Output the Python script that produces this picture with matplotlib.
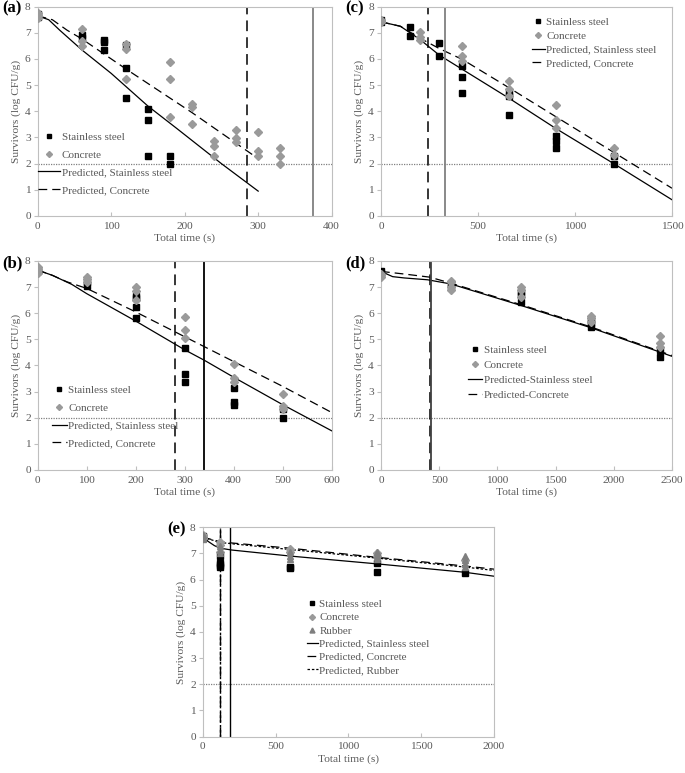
import numpy as np
import matplotlib
matplotlib.use("Agg")
import matplotlib.pyplot as plt

plt.rcParams['font.family'] = ['Liberation Serif', 'DejaVu Serif']
plt.rcParams['font.size'] = 8.2

# ---- panel (a) ----
a_ss_t = [0, 0, 60, 60, 90, 90, 90, 120, 120, 120, 150, 150, 150, 180, 180]
a_ss_y = [7.6, 7.7, 6.92, 6.82, 6.74, 6.65, 6.34, 6.55, 5.67, 4.52, 4.09, 3.68, 2.31, 2.31, 2.0]
a_co_t = [0, 0, 0, 60, 60, 60, 120, 120, 120, 180, 180, 180, 210, 210, 210,
          240, 240, 240, 270, 270, 270, 300, 300, 300, 330, 330, 330]
a_co_y = [7.55, 7.65, 7.75, 7.15, 6.7, 6.48, 6.57, 6.37, 5.25, 5.89, 5.25, 3.77, 4.29, 4.15, 3.52,
          2.85, 2.69, 2.31, 3.29, 2.99, 2.84, 3.2, 2.48, 2.29, 2.6, 2.29, 2.0]
a_pss_t = [0, 15, 30, 60, 100, 150, 189, 250, 300]
a_pss_y = [7.65, 7.5, 7.1, 6.35, 5.45, 4.2, 3.35, 2.0, 0.95]
a_pco_t = [0, 20, 40, 60, 120, 210, 297]
a_pco_y = [7.65, 7.5, 7.1, 6.77, 5.62, 3.95, 2.25]
a_vlines = [285, 374]

# ---- panel (b) ----
b_ss_t = [0, 0, 100, 100, 200, 200, 200, 200, 300, 300, 300, 400, 400, 400, 500, 500]
b_ss_y = [7.6, 7.65, 7.05, 7.2, 6.67, 6.6, 6.25, 5.8, 4.68, 3.67, 3.38, 3.15, 2.6, 2.5, 2.32, 2.0]
b_co_t = [0, 0, 0, 100, 100, 100, 200, 200, 200, 300, 300, 300, 400, 400, 400, 500, 500, 500]
b_co_y = [7.55, 7.65, 7.75, 7.4, 7.3, 7.2, 6.99, 6.86, 6.5, 5.87, 5.36, 5.04, 4.06, 3.51, 3.38, 2.9, 2.46, 2.32]
b_pss_t = [0, 30, 70, 100, 200, 300, 340, 400, 500, 600]
b_pss_y = [7.65, 7.45, 7.1, 6.75, 5.7, 4.6, 4.2, 3.55, 2.5, 1.5]
b_pco_t = [0, 30, 60, 100, 200, 300, 400, 500, 600]
b_pco_y = [7.65, 7.45, 7.2, 6.95, 6.05, 5.1, 4.15, 3.2, 2.2]
b_vlines = [280, 340]

# ---- panel (c) ----
c_ss_t = [0, 0, 150, 150, 300, 300, 420, 420, 420, 660, 660, 660, 900, 900, 900, 1200, 1200]
c_ss_y = [7.4, 7.5, 7.21, 6.88, 6.62, 6.13, 5.75, 5.31, 4.71, 4.75, 4.6, 3.85, 3.06, 2.87, 2.61, 2.3, 2.0]
c_co_t = [0, 0, 0, 200, 200, 200, 420, 420, 420, 660, 660, 660, 900, 900, 900, 1200, 1200]
c_co_y = [7.4, 7.45, 7.5, 7.03, 6.83, 6.72, 6.5, 6.13, 5.93, 5.15, 4.86, 4.57, 4.25, 3.67, 3.35, 2.61, 2.32]
c_pss_t = [0, 100, 200, 300, 420, 660, 900, 1200, 1500]
c_pss_y = [7.42, 7.25, 6.75, 6.15, 5.6, 4.5, 3.35, 2.0, 0.62]
c_pco_t = [0, 100, 200, 300, 420, 660, 900, 1200, 1500]
c_pco_y = [7.42, 7.25, 6.8, 6.4, 5.98, 4.9, 3.8, 2.43, 1.06]
c_vlines = [244, 331]

# ---- panel (d) ----
d_ss_t = [0, 0, 600, 600, 1200, 1200, 1200, 1800, 1800, 1800, 2400, 2400]
d_ss_y = [7.6, 7.55, 7.1, 7.0, 6.82, 6.7, 6.42, 5.75, 5.61, 5.46, 4.59, 4.34]
d_co_t = [0, 0, 0, 600, 600, 600, 600, 1200, 1200, 1200, 1800, 1800, 1800, 2400, 2400, 2400]
d_co_y = [7.5, 7.45, 7.38, 7.25, 7.2, 7.0, 6.9, 6.99, 6.89, 6.63, 5.89, 5.8, 5.68, 5.13, 4.85, 4.72]
d_pss_t = [0, 50, 100, 200, 400, 600, 1200, 1800, 2500]
d_pss_y = [7.6, 7.5, 7.4, 7.35, 7.28, 7.12, 6.3, 5.45, 4.35]
d_pco_t = [0, 200, 420, 600, 1200, 1800, 2500]
d_pco_y = [7.6, 7.5, 7.38, 7.15, 6.33, 5.48, 4.38]
d_vlines = [425, 432]

# ---- panel (e) ----
e_ss_t = [0, 0, 120, 120, 120, 120, 600, 600, 1200, 1200, 1800]
e_ss_y = [7.6, 7.65, 6.9, 6.65, 6.55, 6.5, 6.5, 6.43, 6.62, 6.31, 6.24]
e_co_t = [0, 0, 120, 120, 120, 600, 600, 1200, 1200, 1800]
e_co_y = [7.7, 7.6, 7.45, 7.32, 7.07, 7.16, 7.04, 7.03, 6.9, 6.75]
e_ru_t = [0, 0, 0, 120, 120, 120, 600, 600, 600, 1200, 1200, 1200, 1200, 1800, 1800, 1800, 1800]
e_ru_y = [7.7, 7.6, 7.55, 7.3, 7.15, 7.0, 7.05, 6.9, 6.78, 7.05, 6.95, 6.85, 6.8, 6.9, 6.75, 6.6, 6.5]
e_pss_t = [0, 40, 80, 120, 200, 600, 1200, 1800, 2000]
e_pss_y = [7.62, 7.45, 7.3, 7.2, 7.13, 6.9, 6.6, 6.28, 6.13]
e_pco_t = [0, 120, 200, 600, 1200, 1800, 2000]
e_pco_y = [7.62, 7.45, 7.4, 7.2, 6.85, 6.52, 6.4]
e_pru_t = [0, 120, 200, 600, 1200, 1800, 2000]
e_pru_y = [7.62, 7.42, 7.37, 7.15, 6.82, 6.48, 6.35]

GREY = '#9a9a9a'
TXT = '#595959'
DASH = (0, (7, 4))

fig = plt.figure(figsize=(6.85, 7.73), dpi=100)


def setup(ax, xmax, xstep, label):
    ax.set_xlim(0, xmax)
    ax.set_ylim(0, 8)
    ax.set_xticks(np.arange(0, xmax + 1, xstep))
    ax.set_yticks(range(0, 9))
    for s in ax.spines.values():
        s.set_color('#bfbfbf')
        s.set_linewidth(0.8)
    ax.tick_params(axis='y', direction='out', length=3, color='#bfbfbf', labelcolor=TXT, pad=2)
    ax.tick_params(axis='x', direction='in', length=3, color='#bfbfbf', labelcolor=TXT, pad=4)
    ax.set_xlabel('Total time (s)', color=TXT, labelpad=2)
    ax.set_ylabel('Survivors (log CFU/g)', color=TXT, labelpad=3)
    ax.axhline(2, color='#808080', lw=0.9, ls=(0, (1, 1)), zorder=1)
    ax.text(-0.122, 0.99, label, transform=ax.transAxes, fontsize=12,
            fontweight='bold', va='center', ha='left')


def add_legend(ax, anchor, spacing, hlen):
    ax.legend(loc='upper left', bbox_to_anchor=anchor, frameon=False, handlelength=hlen,
              handletextpad=0.15, labelspacing=spacing, borderpad=0, borderaxespad=0,
              labelcolor=TXT, fontsize=8, markerscale=0.85)


def two_series(ax, ss_t, ss_y, co_t, co_y, pss, pco, vl, vcol, names):
    ax.plot(ss_t, ss_y, 's', color='black', ms=4.2, ls='none', label=names[0], zorder=3)
    ax.plot(co_t, co_y, 'D', color=GREY, ms=3.6, ls='none', label=names[1], zorder=4)
    ax.plot(pss[0], pss[1], color='black', lw=0.9, label=names[2], zorder=2)
    ax.plot(pco[0], pco[1], color='black', lw=0.9, ls=DASH, label=names[3], zorder=2)
    ax.axvline(vl[0], color='black', lw=1.1, ls=DASH, zorder=2)
    ax.axvline(vl[1], color=vcol, lw=1.3, zorder=2)


pred = ['Stainless steel', 'Concrete', 'Predicted, Stainless steel', 'Predicted, Concrete']

ax_a = fig.add_axes([0.0550, 0.7206, 0.4292, 0.2708])
setup(ax_a, 400, 100, '(a)')
two_series(ax_a, a_ss_t, a_ss_y, a_co_t, a_co_y, (a_pss_t, a_pss_y), (a_pco_t, a_pco_y),
           a_vlines, '#808080', pred)
add_legend(ax_a, (0.0, 0.399), 0.7, 2.0)

ax_b = fig.add_axes([0.0550, 0.3920, 0.4292, 0.2704])
setup(ax_b, 600, 100, '(b)')
two_series(ax_b, b_ss_t, b_ss_y, b_co_t, b_co_y, (b_pss_t, b_pss_y), (b_pco_t, b_pco_y),
           b_vlines, 'black', pred)
add_legend(ax_b, (0.048, 0.404), 0.7, 1.35)

ax_c = fig.add_axes([0.5562, 0.7206, 0.4248, 0.2708])
setup(ax_c, 1500, 500, '(c)')
two_series(ax_c, c_ss_t, c_ss_y, c_co_t, c_co_y, (c_pss_t, c_pss_y), (c_pco_t, c_pco_y),
           c_vlines, '#808080', pred)
add_legend(ax_c, (0.52, 0.948), 0.35, 1.1)

ax_d = fig.add_axes([0.5562, 0.3920, 0.4248, 0.2704])
setup(ax_d, 2500, 500, '(d)')
two_series(ax_d, d_ss_t, d_ss_y, d_co_t, d_co_y, (d_pss_t, d_pss_y), (d_pco_t, d_pco_y),
           d_vlines, '#404040',
           ['Stainless steel', 'Concrete', 'Predicted-Stainless steel', 'Predicted-Concrete'])
add_legend(ax_d, (0.30, 0.596), 0.45, 1.25)

ax_e = fig.add_axes([0.2959, 0.0470, 0.4253, 0.2709])
setup(ax_e, 2000, 500, '(e)')
ax_e.plot(e_ss_t, e_ss_y, 's', color='black', ms=4.2, ls='none', label='Stainless steel', zorder=3)
ax_e.plot(e_co_t, e_co_y, 'D', color=GREY, ms=3.6, ls='none', label='Concrete', zorder=4)
ax_e.plot(e_ru_t, e_ru_y, '^', color='#7f7f7f', ms=4.2, ls='none', label='Rubber', zorder=4)
ax_e.plot(e_pss_t, e_pss_y, color='black', lw=0.9, label='Predicted, Stainless steel', zorder=2)
ax_e.plot(e_pco_t, e_pco_y, color='black', lw=0.9, ls=DASH, label='Predicted, Concrete', zorder=2)
ax_e.plot(e_pru_t, e_pru_y, color='black', lw=0.9, ls=(0, (2, 1.5)), label='Predicted, Rubber', zorder=2)
ax_e.axvline(117, color='black', lw=1.0, ls=DASH, zorder=2)
ax_e.axvline(121, color='black', lw=1.0, ls=(0, (2, 1.5)), zorder=2)
ax_e.axvline(188, color='black', lw=1.0, zorder=2)
add_legend(ax_e, (0.357, 0.655), 0.3, 1.0)

fig.savefig('out.png', dpi=100)
